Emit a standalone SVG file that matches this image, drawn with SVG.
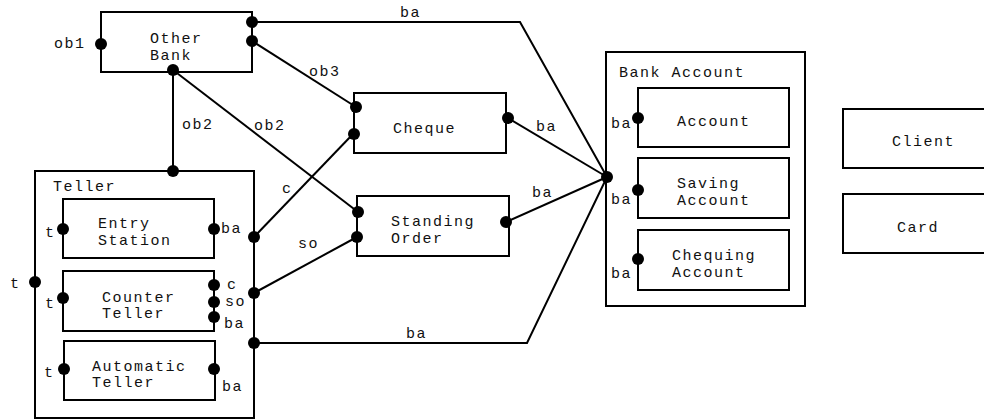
<svg xmlns="http://www.w3.org/2000/svg" width="984" height="419" viewBox="0 0 984 419">
  <style>
    .box { fill: none; stroke: #000; stroke-width: 2; }
    .wire { fill: none; stroke: #000; stroke-width: 2; stroke-linejoin: miter; }
    .port { fill: #000; }
    text { font-family: "Liberation Mono", "Courier New", monospace; font-size: 15px; letter-spacing: 1.5px; fill: #111; }
  </style>
  <rect width="984" height="419" fill="#fff"/>

  <!-- connectors -->
  <g id="connectors">
    <polyline class="wire" points="252,22 520,22 607,177"/>
    <text x="400" y="17">ba</text>
    <line class="wire" x1="252" y1="41" x2="356" y2="107"/>
    <text x="309" y="76">ob3</text>
    <line class="wire" x1="173" y1="70" x2="173" y2="171"/>
    <text x="182" y="129">ob2</text>
    <line class="wire" x1="173" y1="70" x2="358" y2="212"/>
    <text x="254" y="130">ob2</text>
    <line class="wire" x1="254" y1="237" x2="353" y2="134"/>
    <text x="282" y="193">c</text>
    <line class="wire" x1="254" y1="293" x2="357" y2="237"/>
    <text x="298" y="248">so</text>
    <polyline class="wire" points="254,343 527,343 607,177"/>
    <text x="406" y="338">ba</text>
    <line class="wire" x1="508" y1="118" x2="607" y2="177"/>
    <text x="536" y="131">ba</text>
    <line class="wire" x1="506" y1="222" x2="607" y2="177"/>
    <text x="532" y="197">ba</text>
  </g>

  <!-- Other Bank -->
  <g id="other-bank">
    <rect class="box" x="101" y="12" width="151" height="60"/>
    <text x="150" y="43">Other</text>
    <text x="150" y="60">Bank</text>
    <circle class="port" cx="101" cy="44" r="6"/>
    <circle class="port" cx="252" cy="22" r="6"/>
    <circle class="port" cx="252" cy="41" r="6"/>
    <circle class="port" cx="173" cy="70" r="6"/>
    <text x="54" y="48">ob1</text>
  </g>

  <!-- Cheque -->
  <g id="cheque">
    <rect class="box" x="354" y="93" width="152" height="60"/>
    <text x="393" y="133">Cheque</text>
    <circle class="port" cx="356" cy="107" r="6"/>
    <circle class="port" cx="354" cy="134" r="6"/>
    <circle class="port" cx="508" cy="118" r="6"/>
  </g>

  <!-- Standing Order -->
  <g id="standing-order">
    <rect class="box" x="357" y="196" width="152" height="60"/>
    <text x="391" y="226">Standing</text>
    <text x="391" y="243">Order</text>
    <circle class="port" cx="358" cy="212" r="6"/>
    <circle class="port" cx="357" cy="237" r="6"/>
    <circle class="port" cx="506" cy="222" r="6"/>
  </g>

  <!-- Teller -->
  <g id="teller">
    <rect class="box" x="35" y="171" width="219" height="247"/>
    <text x="53" y="191">Teller</text>
    <circle class="port" cx="173" cy="171" r="6"/>
    <circle class="port" cx="35" cy="282" r="6"/>
    <text x="10" y="288">t</text>
    <circle class="port" cx="254" cy="237" r="6"/>
    <circle class="port" cx="254" cy="293" r="6"/>
    <circle class="port" cx="254" cy="343" r="6"/>
  </g>

  <g id="entry-station">
    <rect class="box" x="63" y="199" width="151" height="59"/>
    <text x="98" y="228">Entry</text>
    <text x="98" y="245">Station</text>
    <circle class="port" cx="63" cy="229" r="6"/>
    <circle class="port" cx="214" cy="229" r="6"/>
    <text x="45" y="237">t</text>
    <text x="221" y="233">ba</text>
  </g>

  <g id="counter-teller">
    <rect class="box" x="63" y="271" width="151" height="60"/>
    <text x="102" y="302">Counter</text>
    <text x="102" y="318">Teller</text>
    <circle class="port" cx="63" cy="298" r="6"/>
    <circle class="port" cx="214" cy="285" r="6"/>
    <circle class="port" cx="214" cy="302" r="6"/>
    <circle class="port" cx="214" cy="317" r="6"/>
    <text x="45" y="308">t</text>
    <text x="227" y="289">c</text>
    <text x="225" y="306">so</text>
    <text x="224" y="328">ba</text>
  </g>

  <g id="automatic-teller">
    <rect class="box" x="64" y="341" width="151" height="59"/>
    <text x="92" y="371">Automatic</text>
    <text x="92" y="387">Teller</text>
    <circle class="port" cx="64" cy="369" r="6"/>
    <circle class="port" cx="214" cy="369" r="6"/>
    <text x="44" y="377">t</text>
    <text x="222" y="391">ba</text>
  </g>

  <!-- Bank Account -->
  <g id="bank-account">
    <rect class="box" x="606" y="52" width="199" height="254"/>
    <text x="619" y="77">Bank Account</text>
    <circle class="port" cx="607" cy="177" r="6"/>
  </g>

  <g id="account">
    <rect class="box" x="638" y="88" width="151" height="59"/>
    <text x="677" y="126">Account</text>
    <circle class="port" cx="638" cy="118" r="6"/>
    <text x="611" y="128">ba</text>
  </g>

  <g id="saving-account">
    <rect class="box" x="638" y="158" width="151" height="60"/>
    <text x="677" y="188">Saving</text>
    <text x="677" y="205">Account</text>
    <circle class="port" cx="638" cy="190" r="6"/>
    <text x="611" y="204">ba</text>
  </g>

  <g id="chequing-account">
    <rect class="box" x="638" y="230" width="151" height="60"/>
    <text x="672" y="260">Chequing</text>
    <text x="672" y="277">Account</text>
    <circle class="port" cx="638" cy="259" r="6"/>
    <text x="611" y="278">ba</text>
  </g>

  <!-- Client and Card -->
  <g id="client">
    <rect class="box" x="843" y="109" width="150" height="59"/>
    <text x="892" y="146">Client</text>
  </g>

  <g id="card">
    <rect class="box" x="843" y="194" width="150" height="59"/>
    <text x="897" y="232">Card</text>
  </g>
</svg>
